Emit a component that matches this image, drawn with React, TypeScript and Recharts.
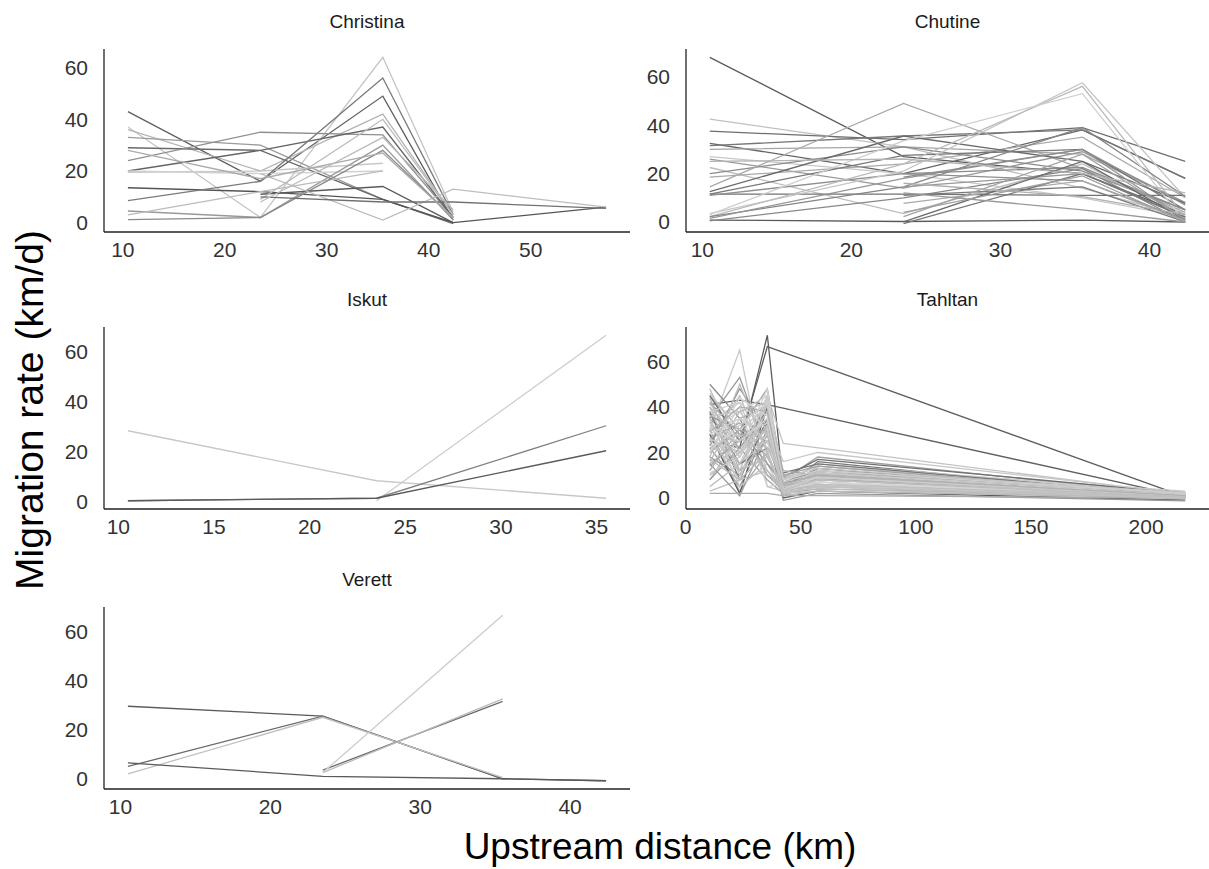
import { LineChart, Line, XAxis, YAxis } from 'recharts'

// upstream distance (km) of each receiver, one array per river
const christinaX = [10.5, 23.5, 35.5, 42.4, 57.4]
const chutineX = [10.5, 23.5, 35.5, 42.4]
const iskutX = [10.5, 23.5, 35.5]
const tahltanX = [10.5, 23.5, 35.5, 42.4, 57.4, 217]
const verettX = [10.5, 23.5, 35.5, 42.4]

// migration rate (km/d) of each fish at each receiver, null = not detected
const christinaRates: (number | null)[][] = [
  [43, 16, 49, 1, null],
  [37, 2, 64, 4, null],
  [36, 20, 42, 3, null],
  [33, 30, 9, 0, null],
  [29, 28, 9, -0.4, null],
  [24, 35, 34, 2, null],
  [20, 28, 37, 2, null],
  [19.5, 20, 23, null, null],
  [20, 19, 20, null, null],
  [13.5, 12, 9, 0, 6],
  [8.5, 16, 56, 3, null],
  [4.5, 2, 30, 1, null],
  [3, 12, 20, null, null],
  [1.2, 2, 28, 2, null],
  [null, 11, 14, 0, null],
  [null, 9, 40, 3, null],
  [null, 19, 1, 13, 6],
  [null, 10, 8, 8, 5.5],
  [28, 17, 27, 2, null],
  [null, 8, 33, 5, null],
]
const christinaTone = [
  '#5e5e5e', '#c4c4c4', '#b5b5b5', '#9a9a9a', '#6a6a6a', '#8f8f8f', '#646464', '#c8c8c8', '#d0d0d0', '#555555',
  '#7a7a7a', '#999999', '#bbbbbb', '#8a8a8a', '#5a5a5a', '#bcbcbc', '#bdbdbd', '#707070', '#aaaaaa', '#bbbbbb',
]

const chutineRates: (number | null)[][] = [
  [68, 27, 20, 3],
  [42.5, 31, 14, 2],
  [37.5, 34, 39, 25],
  [32.5, 20, 38, 18],
  [31.5, 35.5, 38, 18],
  [30, 31, 28, 8],
  [27, 20, 10, 2],
  [26, 14, 29, 8],
  [22.5, 3.5, 24, 3],
  [20, 31, 21, 5],
  [18.5, 24, 35, 10],
  [14.5, 49, 22, 4],
  [12.5, 35.5, 25, 7.7],
  [11.5, 11.5, 11, 11],
  [11.5, 27.5, 30, 5],
  [11, 20, 17, 1],
  [3.5, 21, 57.5, 10],
  [2.2, 24, 56, 2],
  [0.8, 0.2, 0.8, 0],
  [2.2, 14.5, 39, 10.5],
  [3, 33.5, 53, 0],
  [1.5, 18, 30, 1],
  [0.5, 10, 22, 0],
  [null, 20, 22.5, 5],
  [null, 14.5, 20, 2],
  [null, 11, 14.5, 0],
  [null, 7.7, 17, 0.5],
  [null, 0, 25, 1],
  [null, -0.7, 20, 2],
  [null, 2.2, 28, 1],
  [null, 18.5, 30, 7],
  [null, 16, 10.5, 3],
  [25, 26, 20, 12],
  [null, 12, 5, 0],
  [null, 4, 19, 0],
]
const chutineTone = [
  '#5a5a5a', '#c0c0c0', '#6e6e6e', '#636363', '#777777', '#a5a5a5', '#c8c8c8', '#999999', '#bdbdbd', '#8a8a8a',
  '#aaaaaa', '#a8a8a8', '#6a6a6a', '#727272', '#777777', '#8f8f8f', '#c6c6c6', '#bbbbbb', '#5a5a5a', '#858585',
  '#cfcfcf', '#959595', '#888888', '#8a8a8a', '#999999', '#7a7a7a', '#aaaaaa', '#6a6a6a', '#777777', '#a0a0a0',
  '#8c8c8c', '#b0b0b0', '#b5b5b5', '#999999', '#9e9e9e',
]

const iskutRates: (number | null)[][] = [
  [28.5, 8.5, 1.5],
  [null, 0.5, 66.7],
  [0.5, 1.5, 30.5],
  [0.5, 1.5, 20.5],
]
const iskutTone = ['#c8c8c8', '#cccccc', '#808080', '#5a5a5a']

const tahltanRates: (number | null)[][] = [
  [25, 22, 71.5, 6, null, null],
  [null, 25, 66.5, null, null, 0.5],
  [41, 43, 41, null, null, 0.5],
  [30, 65, 5, 3, 9, 1],
  [35, 53, 20, 2, 12, 0],
  [48, 20, 42, 3, 14, 1],
  [50, 35, 10, 5, 11, 2],
  [28, 12, 45, 24, null, 1.5],
  [20, 30, 48, 8, 18, 1],
  [38, 8, 35, 4, 16, 0],
  [27, 15, 40, 6, 15, 2],
  [15, 25, 38, 2, 13, 0.5],
  [45, 30, 25, 8, 12, 1],
  [33, 42, 12, 5, 10, 2],
  [22, 5, 30, 10, 11, 1.5],
  [8, 28, 22, 7, 9, 0],
  [40, 18, 45, 3, 8, 1],
  [30, 3, 20, 1, 7, 0],
  [25, 45, 15, 9, 10, 2.5],
  [18, 10, 33, 6, 6, 1],
  [12, 35, 28, 4, 5, 0],
  [35, 22, 8, 2, 4, 0.5],
  [28, 2, 40, 0, 3, -1],
  [5, 15, 25, 3, 9.5, 1],
  [42, 28, 30, 7, 12, 1.5],
  [20, 40, 5, 6, 7, 0.5],
  [10, 20, 35, 5, 10.5, 2],
  [32, 12, 42, 8, 14, 3],
  [26, 33, 18, 4, 8.5, 1],
  [3, 8, 12, 2, 5, 0],
  [15, 1, 28, -1, 2, -1.2],
  [45, 25, 38, 9, 17, 2],
  [37, 15, 22, 11, 15, 1],
  [23, 48, 30, 5, 13, 0],
  [30, 38, 45, 10, 11, 1],
  [12, 30, 10, 3, 6, 0.5],
  [40, 10, 28, 6, null, 1],
  [26, 20, 48, 4, 9, 2],
  [null, 35, 40, 12, 10, 1],
  [18, 50, 20, 3, 4, 0],
  [35, 5, 15, 2, 3, 0.5],
  [8, 22, 38, 7, 8, 1.5],
  [2, 2, 2, 1, 1, 0],
  [31, 27, 33, 16, 20, 2],
  [44, 12, 25, 5, 10, 1],
  [20, 44, 36, 3, 7, 0],
  [36, 30, 15, 6, 9, 1],
  [16, 38, 42, 8, 12, 2.5],
  [26, 8, 44, 4, 6, 0],
  [14, 26, 30, 10, 14, 1],
  [42, 20, 30, 3, 8, 1],
  [28, 35, 25, 5, 6, 0.5],
  [33, 18, 38, 2, 10, 1],
  [22, 28, 12, 4, 5, 0],
  [38, 42, 30, 6, 9, 1.5],
  [17, 8, 20, 1, 3, 0],
  [46, 30, 40, 7, 11, 2],
  [30, 25, 35, 3, 7, 1],
  [24, 12, 18, 5, 8, 0.5],
  [36, 38, 22, 9, 13, 2],
  [11, 18, 44, 4, 9, 1],
  [29, 40, 38, 6, 10, 1],
  [40, 26, 20, 2, 5, 0],
  [21, 32, 42, 8, 12, 2],
  [34, 15, 32, 3, 6, 0.5],
]
const tahltanTone = [
  '#5a5a5a', '#5e5e5e', '#606060', '#c8c8c8', '#999999', '#bbbbbb', '#8a8a8a', '#c4c4c4', '#a0a0a0', '#777777',
  '#cccccc', '#bbbbbb', '#b0b0b0', '#c8c8c8', '#999999', '#c0c0c0', '#d0d0d0', '#aaaaaa', '#bbbbbb', '#888888',
  '#c6c6c6', '#a5a5a5', '#5a5a5a', '#bfbfbf', '#9a9a9a', '#d0d0d0', '#b8b8b8', '#c9c9c9', '#aaaaaa', '#c0c0c0',
  '#999999', '#6e6e6e', '#777777', '#8c8c8c', '#cccccc', '#b5b5b5', '#c2c2c2', '#d2d2d2', '#a8a8a8', '#bdbdbd',
  '#c5c5c5', '#9d9d9d', '#aaaaaa', '#c8c8c8', '#b0b0b0', '#d5d5d5', '#999999', '#bbbbbb', '#cccccc', '#a2a2a2',
  '#c0c0c0', '#cfcfcf', '#c4c4c4', '#bbbbbb', '#d0d0d0', '#b8b8b8', '#c8c8c8', '#d4d4d4', '#bdbdbd', '#c6c6c6',
  '#cccccc', '#b0b0b0', '#c2c2c2', '#cfcfcf', '#bfbfbf',
]

const verettRates: (number | null)[][] = [
  [29.5, 25.5, 0, -0.8],
  [5, 25.5, 0, null],
  [2, 25, 0.5, null],
  [6.5, 1, 0, -0.8],
  [null, 3.5, 31.5, null],
  [null, 2.5, 32.5, null],
  [null, 2.5, 66.5, null],
]
const verettTone = ['#5a5a5a', '#6a6a6a', '#c0c0c0', '#5a5a5a', '#6a6a6a', '#bbbbbb', '#cccccc']

const yTicks = [0, 20, 40, 60]

const FONT = '"Liberation Sans", Arial, Helvetica, sans-serif'

type Pt = { x: number; y: number }

function toSeries(xs: number[], rows: (number | null)[][]): Pt[][] {
  return rows.map(r => {
    const pts: Pt[] = []
    r.forEach((v, i) => {
      if (v !== null) pts.push({ x: xs[i], y: v })
    })
    return pts
  })
}

// ggplot style 5% padding around the data range
function padded(vals: number[]): [number, number] {
  const lo = Math.min(...vals)
  const hi = Math.max(...vals)
  const pad = (hi - lo) * 0.05
  return [lo - pad, hi + pad]
}

type PanelProps = {
  title: string
  xs: number[]
  rates: (number | null)[][]
  tones: string[]
  xTicks: number[]
  left: number
  top: number
  width: number
  height: number
}

const YW = 80
const XH = 34

function Panel({ title, xs, rates, tones, xTicks, left, top, width, height }: PanelProps) {
  const series = toSeries(xs, rates)
  const xDomain = padded(series.flat().map(p => p.x))
  const yDomain = padded(series.flat().map(p => p.y))
  const axis = { stroke: '#222', strokeWidth: 1.3 }
  const tick = { fontSize: 21, fill: '#333', fontFamily: FONT }

  return (
    <>
      <div
        style={{
          position: 'absolute',
          left: left,
          width: width,
          top: top - 37,
          lineHeight: 1,
          textAlign: 'center',
          fontFamily: FONT,
          fontSize: 19,
          color: '#1a1a1a',
        }}
      >
        {title}
      </div>
      <div style={{ position: 'absolute', left: left - YW, top: top }}>
        <LineChart width={width + YW} height={height + XH} margin={{ top: 0, right: 0, bottom: 0, left: 0 }}>
          <XAxis
            type="number"
            dataKey="x"
            domain={xDomain}
            allowDataOverflow
            ticks={xTicks}
            interval={0}
            tickLine={false}
            axisLine={axis}
            tick={tick}
            tickMargin={4}
            height={XH}
          />
          <YAxis
            type="number"
            domain={yDomain}
            allowDataOverflow
            ticks={yTicks}
            interval={0}
            tickLine={false}
            axisLine={axis}
            tick={tick}
            tickMargin={10}
            width={YW}
          />
          {series.map((pts, i) => (
            <Line
              key={i}
              data={pts}
              dataKey="y"
              type="linear"
              stroke={tones[i]}
              strokeWidth={1.3}
              dot={false}
              activeDot={false}
              isAnimationActive={false}
            />
          ))}
        </LineChart>
      </div>
    </>
  )
}

export default function App() {
  return (
    <div style={{ position: 'absolute', left: 0, top: 0, width: 1209, height: 869, background: '#fff', overflow: 'hidden' }}>
      <Panel title="Christina" xs={christinaX} rates={christinaRates} tones={christinaTone}
        xTicks={[10, 20, 30, 40, 50]} left={104} top={49} width={526} height={183} />
      <Panel title="Chutine" xs={chutineX} rates={chutineRates} tones={chutineTone}
        xTicks={[10, 20, 30, 40]} left={686} top={49} width={523} height={183} />
      <Panel title="Iskut" xs={iskutX} rates={iskutRates} tones={iskutTone}
        xTicks={[10, 15, 20, 25, 30, 35]} left={104} top={327} width={526} height={182} />
      <Panel title="Tahltan" xs={tahltanX} rates={tahltanRates} tones={tahltanTone}
        xTicks={[0, 50, 100, 150, 200]} left={686} top={327} width={523} height={182} />
      <Panel title="Verett" xs={verettX} rates={verettRates} tones={verettTone}
        xTicks={[10, 20, 30, 40]} left={104} top={607} width={526} height={182} />

      <div
        style={{
          position: 'absolute',
          left: 29,
          top: 410,
          lineHeight: 1,
          transform: 'translate(-50%, -50%) rotate(-90deg)',
          whiteSpace: 'nowrap',
          fontFamily: FONT,
          fontSize: 39,
          color: '#000',
        }}
      >
        Migration rate (km/d)
      </div>
      <div
        style={{
          position: 'absolute',
          left: 660,
          top: 846,
          lineHeight: 1,
          transform: 'translate(-50%, -50%)',
          whiteSpace: 'nowrap',
          fontFamily: FONT,
          fontSize: 37,
          color: '#000',
        }}
      >
        Upstream distance (km)
      </div>
    </div>
  )
}
